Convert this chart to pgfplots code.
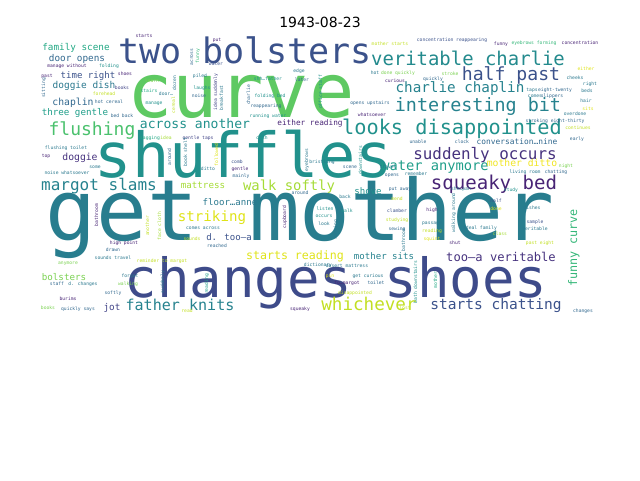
\documentclass[border=0pt]{standalone}
\usepackage{fontspec}
\usepackage{pgfplots}
\pgfplotsset{compat=1.18}
\newfontfamily\wcfont{DejaVu Sans Mono}
\newfontfamily\titlefont{DejaVu Sans}
\definecolor{vA}{RGB}{68,1,84}
\definecolor{vB}{RGB}{72,36,117}
\definecolor{vBB}{RGB}{70,50,126}
\definecolor{vC}{RGB}{65,68,135}
\definecolor{vCD}{RGB}{62,75,138}
\definecolor{vD}{RGB}{59,82,139}
\definecolor{vE}{RGB}{49,104,142}
\definecolor{vF}{RGB}{42,120,142}
\definecolor{vFG}{RGB}{40,125,142}
\definecolor{vG}{RGB}{38,130,142}
\definecolor{vGH}{RGB}{35,138,141}
\definecolor{vH}{RGB}{33,145,140}
\definecolor{vI}{RGB}{31,158,137}
\definecolor{vJ}{RGB}{34,168,132}
\definecolor{vK}{RGB}{53,183,121}
\definecolor{vL}{RGB}{74,193,109}
\definecolor{vM}{RGB}{94,201,98}
\definecolor{vN}{RGB}{122,209,81}
\definecolor{vO}{RGB}{165,219,54}
\definecolor{vP}{RGB}{194,223,35}
\definecolor{vQ}{RGB}{223,227,24}
\definecolor{vR}{RGB}{240,229,33}
% \W{x}{baseline y}{font size pt}{rotation}{colour}{word}
\newcommand\W[6]{\addplot[draw=none, mark=none, nodes near coords={#6},
  nodes near coords style={anchor=base, inner sep=0pt, outer sep=0pt,
    rotate=#4, text=#5, font=\wcfont\fontsize{#3}{#3}\selectfont}]
  coordinates {(#1,#2)};}
\begin{document}
\begin{tikzpicture}
\useasboundingbox (0,0) rectangle (480pt,360pt);
\begin{axis}[
  at={(0,0)}, anchor=south west,
  scale only axis, width=480pt, height=360pt,
  xmin=0, xmax=640, ymin=0, ymax=480, y dir=reverse,
  hide axis, clip=false,
]
\W{241}{117}{56.5}{0}{vM}{curve}
\W{300}{240}{63.4}{0}{vFG}{get mother}
\W{336}{297}{40.5}{0}{vCD}{changes shoes}
\W{244}{177}{46.5}{0}{vH}{shuffles}
\W{245}{63}{26.3}{0}{vD}{two bolsters}
\W{468}{65}{14.2}{0}{vGH}{veritable charlie}
\W{511}{80}{13.6}{0}{vD}{half past}
\W{460}{92}{10.7}{0}{vG}{charlie chaplin}
\W{478}{111}{13.8}{0}{vG}{interesting bit}
\W{452}{134}{15.2}{0}{vH}{looks disappointed}
\W{517}{144}{5.9}{0}{vE}{conversation…nine}
\W{485}{159}{11.9}{0}{vBB}{suddenly occurs}
\W{435}{170}{10.3}{0}{vI}{water anymore}
\W{522}{166}{7.3}{0}{vR}{mother ditto}
\W{494}{189}{14.3}{0}{vB}{squeaky bed}
\W{501}{261}{9.1}{0}{vBB}{too—a veritable}
\W{577}{248}{8.8}{90}{vK}{funny curve}
\W{496}{309}{10.9}{0}{vD}{starts chatting}
\W{369}{310}{13.2}{0}{vP}{whichever}
\W{180}{310}{11.3}{0}{vG}{father knits}
\W{295}{259}{8.7}{0}{vQ}{starts reading}
\W{212}{221}{10.6}{0}{vQ}{striking}
\W{289}{190}{10.4}{0}{vO}{walk softly}
\W{368}{194}{6.8}{0}{vH}{shove}
\W{384}{259}{6.8}{0}{vG}{mother sits}
\W{99}{190}{12}{0}{vG}{margot slams}
\W{203}{188}{6.9}{0}{vO}{mattress}
\W{230}{205}{6.8}{0}{vF}{floor…anne}
\W{229}{240}{6.8}{0}{vD}{d. too—a}
\W{64}{280}{6.9}{0}{vN}{bolsters}
\W{112}{310}{7}{0}{vC}{jot}
\W{195}{128}{9.8}{0}{vH}{across another}
\W{310}{125}{5.8}{0}{vB}{either reading}
\W{92}{135}{13.5}{0}{vL}{flushing}
\W{76}{50}{7}{0}{vJ}{family scene}
\W{77}{61}{7}{0}{vE}{door opens}
\W{88}{78}{6.8}{0}{vD}{time right}
\W{84}{88}{7.1}{0}{vF}{doggie dish}
\W{73}{105}{7.3}{0}{vE}{chaplin}
\W{75}{115}{6.9}{0}{vI}{three gentle}
\W{80}{160}{7.3}{0}{vBB}{doggie}
\W{67}{67}{3.5}{0}{vB}{manage without}
\W{109}{67}{3.5}{0}{vH}{folding}
\W{47}{77}{3.5}{0}{vB}{past}
\W{125}{75}{3.5}{0}{vB}{shoes}
\W{122}{89}{3.5}{0}{vC}{books}
\W{104}{95}{3.5}{0}{vP}{forehead}
\W{109}{103}{3.5}{0}{vE}{hot cereal}
\W{122}{117}{3.5}{0}{vE}{bed back}
\W{66}{149}{3.5}{0}{vF}{flushing toilet}
\W{46}{157}{3.5}{0}{vB}{top}
\W{67}{174}{3.5}{0}{vF}{noise whatsoever}
\W{45}{88}{3.5}{90}{vE}{sitting}
\W{95}{168}{3.5}{0}{vF}{some}
\W{144}{37}{3.5}{0}{vB}{starts}
\W{217}{41}{3.5}{0}{vB}{put}
\W{193}{57}{3.5}{90}{vE}{across}
\W{199}{56}{3.5}{90}{vK}{funny}
\W{216}{65}{3.5}{0}{vD}{water}
\W{200}{77}{3.5}{0}{vF}{piled}
\W{202}{89}{3.5}{0}{vH}{laughs}
\W{199}{97}{3.5}{0}{vE}{noise}
\W{152}{82}{3.5}{0}{vN}{learn}
\W{149}{92}{3.5}{0}{vJ}{stairs}
\W{166}{95}{3.5}{0}{vF}{door…}
\W{154}{104}{3.5}{0}{vH}{manage}
\W{175}{105}{3.5}{90}{vP}{cereal}
\W{176}{83}{3.5}{90}{vF}{dozen}
\W{150}{139}{3.5}{0}{vJ}{sagging}
\W{166}{139}{3.5}{0}{vO}{idea}
\W{198}{139}{3.5}{0}{vC}{gentle taps}
\W{187}{152}{3.5}{90}{vF}{book shelf}
\W{171}{157}{3.5}{90}{vE}{around}
\W{218}{155}{3.5}{90}{vQ}{followed}
\W{237}{163}{3.5}{0}{vD}{comb}
\W{240}{170}{3.5}{0}{vB}{gentle}
\W{241}{177}{3.5}{0}{vE}{mainly}
\W{208}{170}{3.5}{0}{vF}{ditto}
\W{262}{139}{3.5}{0}{vH}{dish}
\W{217}{92}{3.5}{90}{vC}{idea suddenly}
\W{223}{98}{3.5}{90}{vF}{breakfast}
\W{250}{95}{3.5}{90}{vE}{charlie}
\W{268}{80}{3.5}{0}{vH}{shh…father}
\W{270}{97}{3.5}{0}{vH}{folding bed}
\W{266}{107}{3.5}{0}{vE}{reappearing}
\W{268}{117}{3.5}{0}{vH}{running water}
\W{299}{72}{3.5}{0}{vF}{edge}
\W{302}{81}{3.5}{0}{vE}{later}
\W{322}{92}{3.5}{90}{vH}{office staff}
\W{390}{45}{3.5}{0}{vP}{mother starts}
\W{375}{74}{3.5}{0}{vF}{hot}
\W{398}{74}{3.5}{0}{vN}{done quickly}
\W{395}{82}{3.5}{0}{vB}{curious}
\W{370}{104}{3.5}{0}{vE}{opens upstairs}
\W{372}{116}{3.5}{0}{vB}{whatsoever}
\W{322}{163}{3.5}{0}{vF}{bristling}
\W{308}{160}{3.5}{90}{vF}{eyebrows}
\W{362}{160}{3.5}{90}{vH}{downstairs}
\W{350}{168}{3.5}{0}{vE}{scene}
\W{388}{168}{3.5}{0}{vF}{travel}
\W{392}{176}{3.5}{0}{vE}{opens}
\W{416}{175}{3.5}{0}{vF}{remember}
\W{452}{41}{3.5}{0}{vD}{concentration reappearing}
\W{501}{45}{3.5}{0}{vB}{funny}
\W{534}{44}{3.5}{0}{vK}{eyebrows forming}
\W{580}{44}{3.5}{0}{vB}{concentration}
\W{433}{80}{3.5}{0}{vE}{quickly}
\W{450}{75}{3.5}{0}{vN}{stroke}
\W{575}{79}{3.5}{0}{vF}{cheeks}
\W{586}{70}{3.5}{0}{vQ}{either}
\W{590}{85}{3.5}{0}{vF}{right}
\W{532}{91}{3.5}{0}{vF}{taps}
\W{555}{91}{3.5}{0}{vE}{eight-twenty}
\W{535}{97}{3.5}{0}{vF}{comes}
\W{552}{97}{3.5}{0}{vE}{slippers}
\W{587}{92}{3.5}{0}{vF}{beds}
\W{586}{102}{3.5}{0}{vF}{hair}
\W{588}{110}{3.5}{0}{vQ}{sits}
\W{555}{122}{3.5}{0}{vE}{stroking eight-thirty}
\W{575}{115}{3.5}{0}{vF}{overdone}
\W{578}{129}{3.5}{0}{vP}{continues}
\W{577}{140}{3.5}{0}{vE}{early}
\W{418}{143}{3.5}{0}{vE}{unable}
\W{462}{143}{3.5}{0}{vE}{clock}
\W{566}{167}{3.5}{0}{vN}{night}
\W{525}{173}{3.5}{0}{vF}{living room}
\W{556}{173}{3.5}{0}{vE}{chatting}
\W{400}{190}{3.5}{0}{vE}{put away}
\W{461}{190}{3.5}{0}{vF}{shh…pan}
\W{511}{191}{3.5}{0}{vH}{study}
\W{397}{200}{3.5}{0}{vP}{mend}
\W{496}{202}{3.5}{0}{vD}{half}
\W{496}{210}{3.5}{0}{vQ}{done}
\W{532}{209}{3.5}{0}{vF}{dishes}
\W{397}{212}{3.5}{0}{vD}{clamber}
\W{432}{211}{3.5}{0}{vB}{high}
\W{397}{221}{3.5}{0}{vP}{studying}
\W{432}{224}{3.5}{0}{vF}{passage}
\W{535}{223}{3.5}{0}{vD}{sample}
\W{480}{229}{3.5}{0}{vF}{ideal family}
\W{535}{230}{3.5}{0}{vF}{veritable}
\W{397}{230}{3.5}{0}{vE}{sewing}
\W{432}{232}{3.5}{0}{vP}{reading}
\W{500}{235}{3.5}{0}{vO}{class}
\W{432}{240}{3.5}{0}{vQ}{squint}
\W{455}{244}{3.5}{0}{vB}{shut}
\W{540}{244}{3.5}{0}{vP}{past eight}
\W{455}{213}{3.5}{90}{vF}{walking around}
\W{405}{240}{3.5}{90}{vF}{bathroom}
\W{417}{282}{3.5}{90}{vH}{bath downstairs}
\W{437}{280}{3.5}{90}{vJ}{mother}
\W{405}{309}{3.5}{0}{vP}{lost}
\W{583}{312}{3.5}{0}{vE}{changes}
\W{300}{194}{3.5}{0}{vE}{around}
\W{345}{198}{3.5}{0}{vF}{back}
\W{325}{210}{3.5}{0}{vH}{listen}
\W{347}{212}{3.5}{0}{vH}{walk}
\W{324}{217}{3.5}{0}{vH}{occurs}
\W{324}{225}{3.5}{0}{vF}{look}
\W{286}{217}{3.5}{90}{vB}{cupboard}
\W{337}{230}{3.5}{90}{vF}{running}
\W{318}{266}{3.5}{0}{vF}{dictionary}
\W{347}{267}{3.5}{0}{vF}{desert mattress}
\W{330}{277}{3.5}{0}{vQ}{pin}
\W{368}{277}{3.5}{0}{vF}{get curious}
\W{347}{284}{3.5}{0}{vB}{to…margot}
\W{376}{284}{3.5}{0}{vE}{toilet}
\W{355}{294}{3.5}{0}{vP}{disappointed}
\W{300}{310}{3.5}{0}{vB}{squeaky}
\W{124}{244}{3.5}{0}{vB}{high point}
\W{113}{251}{3.5}{0}{vE}{drawn}
\W{68}{264}{3.5}{0}{vN}{anymore}
\W{113}{259}{3.5}{0}{vF}{sounds travel}
\W{130}{277}{3.5}{0}{vF}{forgot}
\W{128}{285}{3.5}{0}{vN}{walking}
\W{57}{285}{3.5}{0}{vE}{staff}
\W{83}{285}{3.5}{0}{vF}{d. changes}
\W{113}{294}{3.5}{0}{vE}{softly}
\W{68}{300}{3.5}{0}{vB}{burims}
\W{48}{309}{3.5}{0}{vN}{books}
\W{78}{310}{3.5}{0}{vE}{quickly says}
\W{98}{215}{3.5}{90}{vB}{bathroom}
\W{149}{226}{3.5}{90}{vP}{another}
\W{161}{226}{3.5}{90}{vO}{face cloth}
\W{164}{282}{3.5}{90}{vF}{suddenly}
\W{192}{240}{3.5}{0}{vP}{sounds}
\W{203}{229}{3.5}{0}{vF}{comes across}
\W{217}{247}{3.5}{0}{vE}{reached}
\W{162}{262}{3.5}{0}{vP}{reminder to margot}
\W{187}{312}{3.5}{0}{vP}{read}
\W{208}{284}{3.5}{90}{vI}{reading}
\node[anchor=base, inner sep=0pt, font=\titlefont\fontsize{10.5}{13}\selectfont] at (axis cs:320,27) {1943-08-23};
\end{axis}
\end{tikzpicture}
\end{document}
